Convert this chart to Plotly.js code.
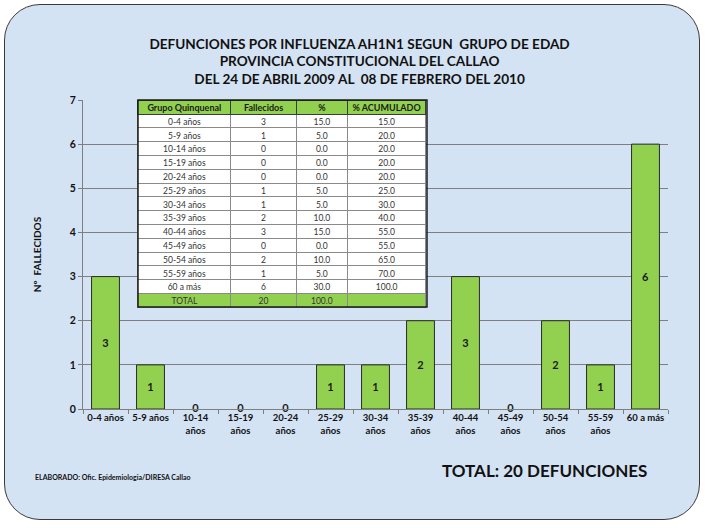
<!DOCTYPE html>
<html>
<head>
<meta charset="utf-8">
<script src="https://cdn.plot.ly/plotly-3.0.1.min.js"></script>
<style>
html,body{margin:0;padding:0;width:705px;height:528px;background:#ffffff;overflow:hidden;}
#frame{position:absolute;left:4px;top:4px;width:694px;height:514px;border:1.5px solid #3a3a3a;border-radius:36px;background:#d4e3f3;}
#chart{position:absolute;left:0;top:0;width:705px;height:528px;}
#chart .cell-text{transform:translateY(-3.5px);}
</style>
</head>
<body>
<div id="frame"></div>
<div id="chart"></div>
<script>
var groups = ['0-4 años','5-9 años','10-14 años','15-19 años','20-24 años','25-29 años','30-34 años','35-39 años','40-44 años','45-49 años','50-54 años','55-59 años','60 a más'];
var tickLabels = ['0-4 años','5-9 años','10-14<br>años','15-19<br>años','20-24<br>años','25-29<br>años','30-34<br>años','35-39<br>años','40-44<br>años','45-49<br>años','50-54<br>años','55-59<br>años','60 a más'];
var deaths = [3,1,0,0,0,1,1,2,3,0,2,1,6];
var pct = [15.0,5.0,0.0,0.0,0.0,5.0,5.0,10.0,15.0,0.0,10.0,5.0,30.0];
var cumPct = [15.0,20.0,20.0,20.0,20.0,25.0,30.0,40.0,55.0,55.0,65.0,70.0,100.0];
var totalDeaths = 20;
var totalPct = 100.0;
var headers = ['Grupo\u00a0Quinquenal','Fallecidos','%','%\u00a0ACUMULADO'];

var FONT = 'Lato, "Open Sans", sans-serif';
var green = '#92d050';

var barTrace = {
  type:'bar', x:tickLabels, y:deaths,
  marker:{color:green, line:{color:'#2b2b2b', width:deaths.map(function(v){return v>0?1:0;})}},
  width:0.62,
  text:deaths.map(function(v){return v>0?String(v):'';}),
  textposition:'inside', insidetextanchor:'middle', constraintext:'none',
  textfont:{family:FONT, size:11, color:'#1a1a1a', weight:'bold'},
  hoverinfo:'skip', showlegend:false
};
var zx=[], zy=[], zt=[];
for (var i=0;i<deaths.length;i++){ if(deaths[i]===0){zx.push(tickLabels[i]); zy.push(deaths[i]); zt.push(String(deaths[i]));} }
var zeroTrace = {
  type:'scatter', mode:'text', x:zx, y:zy, text:zt, textposition:'middle center',
  textfont:{family:FONT, size:11, color:'#1a1a1a', weight:'bold'},
  hoverinfo:'skip', showlegend:false, cliponaxis:false
};

var col1 = groups.concat(['TOTAL']);
var col2 = deaths.map(String).concat([String(totalDeaths)]);
var col3 = pct.map(function(v){return v.toFixed(1);}).concat([totalPct.toFixed(1)]);
var col4 = cumPct.map(function(v){return v.toFixed(1);}).concat(['']);
var fillCol = col1.map(function(v,i){return i===col1.length-1?green:'#ffffff';});

var tableTrace = {
  type:'table',
  domain:{x:[0.094,0.588], y:[0.31,1.0]},
  columnwidth:[93,66,51,79],
  header:{values:headers, align:'center', height:14,
    fill:{color:green}, line:{color:'#3a3a3a', width:1},
    font:{family:FONT, size:9, color:'#1a1a1a', weight:'bold'}},
  cells:{values:[col1,col2,col3,col4], align:'center', height:13.8,
    fill:{color:[fillCol,fillCol,fillCol,fillCol]}, line:{color:'#8a8a8a', width:1},
    font:{family:FONT, size:8.5, color:'#333333'}}
};

var layout = {
  width:705, height:528,
  paper_bgcolor:'rgba(0,0,0,0)', plot_bgcolor:'rgba(0,0,0,0)',
  margin:{l:83, r:37, t:100, b:119},
  font:{family:FONT, color:'#111111'},
  title:{text:'DEFUNCIONES POR INFLUENZA AH1N1 SEGUN  GRUPO DE EDAD<br>PROVINCIA CONSTITUCIONAL DEL CALLAO<br>DEL 24 DE ABRIL 2009 AL  08 DE FEBRERO DEL 2010',
    x:0.51, xref:'container', y:0.908, yref:'container', yanchor:'top',
    font:{family:FONT, size:13.6, color:'#111111', weight:'bold'}},
  bargap:0.38,
  xaxis:{type:'category', showline:true, linecolor:'#7f7f7f', linewidth:1,
    ticks:'outside', tickson:'boundaries', ticklen:4, tickcolor:'#7f7f7f', tickangle:0,
    tickfont:{family:FONT, size:9.5, color:'#111111', weight:'bold'},
    showgrid:false, zeroline:false, fixedrange:true},
  yaxis:{range:[0,7], dtick:1, showline:true, linecolor:'#7f7f7f', linewidth:1,
    ticks:'outside', ticklen:4, tickcolor:'#7f7f7f',
    showgrid:true, gridcolor:'#7f7f7f', gridwidth:1, zeroline:false,
    tickfont:{family:FONT, size:10.5, color:'#111111', weight:'bold'},
    title:{text:'Nº  FALLECIDOS', standoff:26, font:{family:FONT, size:10, color:'#111111', weight:'bold'}}},
  shapes:[
    {type:'rect', xref:'paper', yref:'paper', x0:0.094, x1:0.588, y0:0.33, y1:1.0,
      line:{color:'#1a1a1a', width:1.5}, fillcolor:'rgba(0,0,0,0)', layer:'above'}
  ],
  annotations:[
    {text:'ELABORADO: Ofic. Epidemiologia/DIRESA Callao', xref:'paper', yref:'paper',
      x:-0.085, y:-0.22, xanchor:'left', yanchor:'middle', showarrow:false,
      font:{family:FONT, size:7, color:'#111111', weight:'bold'}},
    {text:'TOTAL: 20 DEFUNCIONES', xref:'paper', yref:'paper',
      x:0.61, y:-0.2, xanchor:'left', yanchor:'middle', showarrow:false,
      font:{family:FONT, size:17, color:'#111111', weight:'bold'}}
  ]
};

Plotly.newPlot('chart',[barTrace, zeroTrace, tableTrace], layout, {displayModeBar:false, staticPlot:true});
</script>
</body>
</html>
